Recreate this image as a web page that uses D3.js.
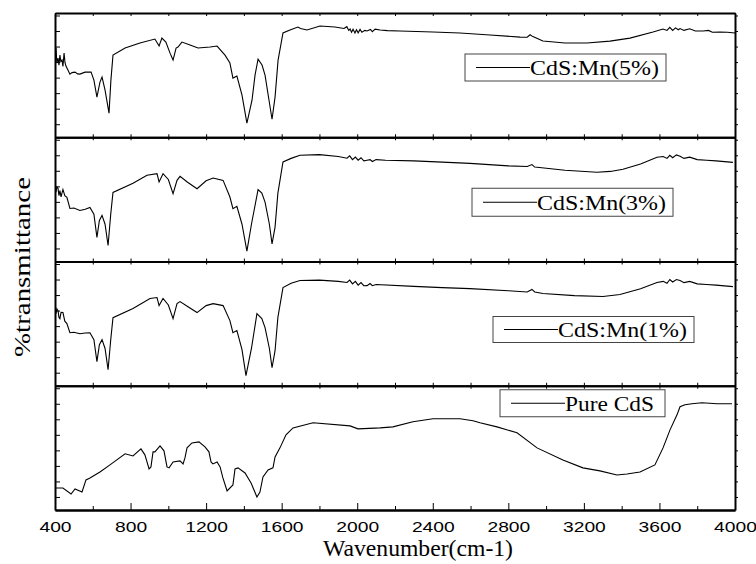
<!DOCTYPE html>
<html>
<head>
<meta charset="utf-8">
<script src="https://cdn.jsdelivr.net/npm/d3@7"></script>
<style>
  body { margin: 0; background: #fff; }
  .frame path.domain { stroke: #000; stroke-width: 2; }
  .frame line { stroke: #000; stroke-width: 1; }
  .xlab text { font-family: 'Liberation Sans', Arial, sans-serif; font-size: 15px; fill: #000; }
  .serif { font-family: 'Liberation Serif', 'Times New Roman', 'DejaVu Serif', serif; fill: #000; }
  .spec { fill: none; stroke: #000; stroke-width: 1.1; }
</style>
</head>
<body>
<div id="chartArea"></div>
<script>
// series names, top panel first
const seriesNames = ['CdS:Mn(5%)', 'CdS:Mn(3%)', 'CdS:Mn(1%)', 'Pure CdS'];

// [wavenumber, transmittance] (arbitrary % of panel height)
const mn5 = [[405,71.8],[410,60],[416,63.7],[421,58],[426,66.1],[431,61],[437,62.1],[442,57],[448,67.7],[453,60],[458,57.3],[469,54.0],[479,50.8],[490,52],[506,52.4],[520,51],[532,50.8],[559,52.4],[591,52.4],[606,46.0],[622,32.3],[638,44.4],[649,48.4],[665,37.9],[686,19.4],[696,46.0],[707,66.1],[771,71.8],[850,75.8],[929,79.0],[951,73.4],[966,79.8],[987,76.6],[1009,67.7],[1025,62.1],[1041,71.8],[1051,72.6],[1072,76.6],[1115,74.2],[1157,71.8],[1221,72.6],[1258,73.4],[1300,66.1],[1326,59.7],[1342,47.6],[1363,49.2],[1390,33.9],[1416,11.3],[1443,29.8],[1459,50.0],[1475,62.9],[1496,58.1],[1512,50.0],[1533,29.8],[1549,14.5],[1565,32.3],[1581,62.1],[1607,83.9],[1644,86.3],[1686,88.7],[1700,87.5],[1734,86.3],[1803,89.5],[1882,88.7],[1930,87.5],[1945,89],[1955,86],[1962,87.1],[1970,84.5],[1978,87],[1988,83.9],[1996,86.5],[2005,84],[2015,86.8],[2025,84.5],[2040,86],[2052,85.5],[2070,86.8],[2080,85],[2095,87],[2121,86.3],[2160,85.8],[2226,85.5],[2401,84.7],[2544,83.9],[2703,82.3],[2862,80.6],[2900,80.5],[2915,82.5],[2930,81],[2983,77.4],[3100,75.8],[3216,75.8],[3338,77.4],[3444,79.8],[3566,84.7],[3619,87.1],[3640,86],[3655,88.5],[3670,86],[3685,88],[3700,86.5],[3709,87.5],[3730,86],[3760,87.3],[3790,85.5],[3831,85.5],[3860,86],[3880,84.5],[3920,84.7],[3960,84.5],[4000,83.9]];

const mn3 = [[405,55.9],[410,60],[416,58.9],[421,53],[426,57],[432,52],[442,58],[452,53],[463,51.6],[479,42.7],[500,43],[532,41.1],[560,42],[585,43.5],[606,38],[622,19.4],[635,33],[649,37.1],[665,30],[681,12.9],[695,38],[707,55.6],[813,62.9],[887,69.4],[940,70.7],[951,64.0],[972,70.7],[1000,66],[1025,54.6],[1046,65.3],[1062,68.5],[1100,64],[1152,58.6],[1200,65],[1237,67.2],[1290,65.3],[1326,51.9],[1342,42.5],[1363,44.4],[1390,30],[1416,8.3],[1440,30],[1475,57.8],[1495,55],[1512,47.8],[1535,30],[1549,14.2],[1565,27.7],[1580,55],[1607,80.1],[1650,83],[1697,85.5],[1800,86],[1900,84.5],[1946,83.1],[1960,85],[1975,82],[1990,84],[2005,81.5],[2020,83.5],[2035,81],[2052,81.5],[2068,82],[2080,80.5],[2100,82],[2150,81.5],[2300,81],[2450,80],[2597,79.0],[2800,77],[2900,76.5],[2925,78],[2940,76],[2952,75.8],[3100,73.5],[3269,71.8],[3340,72.5],[3407,74.2],[3500,78.5],[3587,83.9],[3620,84.5],[3640,83],[3655,85.5],[3670,83.5],[3690,85.8],[3709,84.7],[3730,83],[3760,84],[3800,82],[3850,81.5],[3900,81],[3989,79.8]];

const mn1 = [[405,58.1],[410,62],[416,60.5],[421,55],[426,54.0],[432,59],[442,58.9],[452,52],[463,50.0],[479,42.7],[500,43],[532,41.9],[560,42.5],[585,42.7],[606,37],[622,19.4],[635,33],[649,37.1],[665,30],[681,12.9],[695,37],[707,54.8],[813,62.1],[903,70.2],[940,71.0],[951,64.5],[972,70.2],[1000,65],[1025,54.0],[1046,66.1],[1062,67.7],[1100,64],[1152,58.9],[1200,64.5],[1237,66.1],[1290,64.5],[1326,52.4],[1342,42.7],[1363,44.4],[1390,29],[1411,8.1],[1440,30],[1469,58.1],[1495,54],[1512,46.8],[1535,30],[1549,14.5],[1565,28.2],[1580,55],[1607,79.0],[1650,82.5],[1697,84.7],[1800,85],[1900,84],[1946,83.1],[1960,85],[1975,82],[1990,84],[2005,81],[2020,83],[2035,80.5],[2052,80.6],[2068,82.3],[2080,80.5],[2100,81.5],[2300,80],[2450,79],[2597,78.2],[2800,76.5],[2900,75.5],[2925,77.5],[2940,75.5],[2983,74.2],[3150,72.5],[3301,71.8],[3391,73.4],[3500,78],[3587,83.1],[3620,84],[3640,82.5],[3655,85.5],[3670,83.5],[3690,85.5],[3709,84.7],[3730,83],[3760,84],[3800,82],[3850,81.5],[3900,81],[3989,79.8]];

const pure = [[405,17.7],[442,17.7],[485,12.9],[506,16.9],[543,14.5],[564,24.2],[585,25.8],[638,30.6],[691,36.3],[771,45.2],[813,43.5],[855,49.2],[876,44.4],[898,33.1],[908,34.7],[919,46.8],[929,46.8],[956,51.6],[977,47.6],[993,34.7],[1004,33.9],[1025,38.7],[1062,39.5],[1078,37.1],[1088,41.9],[1099,50.0],[1125,54.0],[1162,54.8],[1194,50.8],[1215,46.8],[1226,38.7],[1236,37.1],[1258,38.7],[1274,34.7],[1289,25.8],[1311,15.3],[1342,20.2],[1353,33.1],[1369,33.9],[1406,29.8],[1438,21.8],[1469,10.5],[1485,14.5],[1501,26.6],[1528,32.3],[1554,33.9],[1565,42.7],[1591,50.0],[1623,60.5],[1660,66.1],[1766,70.2],[1962,67.7],[2004,65.3],[2121,66.1],[2189,66.9],[2295,71.0],[2401,73.4],[2544,73.4],[2613,71.8],[2650,70.2],[2740,66.9],[2846,62.1],[2952,50.0],[3089,40.3],[3195,33.9],[3285,31.5],[3375,28.2],[3428,29.0],[3497,30.6],[3576,36.3],[3619,50.0],[3656,64.5],[3693,76.6],[3709,83.1],[3735,84.7],[3772,85.5],[3825,86.3],[3905,85.5],[3984,85.5]];

const seriesData = [mn5, mn3, mn1, pure];

const xTicks = [400, 800, 1200, 1600, 2000, 2400, 2800, 3200, 3600, 4000];
const xMinorTicks = [600, 1000, 1400, 1800, 2200, 2600, 3000, 3400, 3800];
const yTicks = [10.5, 23, 35.5, 48, 60.5, 73, 85.5, 98];

// legend box placement inside each panel: [left, top, width, height]
const legendBoxes = [[410, 41, 201, 27], [417, 51, 201, 28], [438, 55, 201, 26], [445, 4, 165, 27]];

let margins = { top: 13, right: 21, bottom: 54, left: 55 };
let width = 756 - margins.left - margins.right,
    height = 564 - margins.top - margins.bottom;
let panelH = height / seriesNames.length;

let svg = d3.select('#chartArea').append('svg')
    .attr('width', 756)
    .attr('height', 564);

let chart = svg.append('g')
    .attr('transform', 'translate(' + margins.left + ',' + margins.top + ')');

let xScale = d3.scaleLinear().domain([400, 4000]).range([0, width]);
let yScale = d3.scaleLinear().domain([0, 100]).range([panelH, 0]);

let allX = d3.range(400, 4001, 200);

let line = d3.line()
    .x(d => xScale(d[0]))
    .y(d => yScale(d[1]));

seriesNames.forEach((name, i) => {
    let panel = chart.append('g')
        .attr('transform', 'translate(0,' + (i * panelH) + ')');

    panel.append('path')
        .attr('class', 'spec')
        .attr('d', line(seriesData[i]));

    // frame with ticks
    panel.append('g').attr('class', 'frame')
        .call(d3.axisLeft(yScale).tickValues(yTicks).tickSize(-5).tickSizeOuter(0).tickFormat(''));
    panel.append('g').attr('class', 'frame')
        .attr('transform', 'translate(' + width + ',0)')
        .call(d3.axisRight(yScale).tickValues(yTicks).tickSize(3).tickSizeOuter(0).tickFormat(''));
    panel.append('g').attr('class', 'frame')
        .call(d3.axisTop(xScale).tickValues(allX).tickSize(-3).tickSizeOuter(0).tickFormat(''));

    if (i < seriesNames.length - 1) {
        panel.append('g').attr('class', 'frame')
            .attr('transform', 'translate(0,' + panelH + ')')
            .call(d3.axisBottom(xScale).tickValues(allX).tickSize(-3).tickSizeOuter(0).tickFormat(''));
    } else {
        panel.append('g').attr('class', 'frame')
            .attr('transform', 'translate(0,' + panelH + ')')
            .call(d3.axisBottom(xScale).tickValues(xMinorTicks).tickSize(-4).tickSizeOuter(0).tickFormat(''));
        let ax = panel.append('g').attr('class', 'frame xlab')
            .attr('transform', 'translate(0,' + panelH + ')')
            .call(d3.axisBottom(xScale).tickValues(xTicks).tickSize(-7).tickSizeOuter(0).tickPadding(11).tickFormat(d3.format('d')));
        ax.selectAll('text')
            .attr('font-family', null)
            .attr('font-size', null)
            .attr('textLength', d => String(d).length * 10.7)
            .attr('lengthAdjust', 'spacingAndGlyphs');
    }

    // legend
    let b = legendBoxes[i];
    let lg = panel.append('g').attr('transform', 'translate(' + b[0] + ',' + b[1] + ')');
    lg.append('rect')
        .attr('width', b[2]).attr('height', b[3])
        .attr('fill', '#fff').attr('stroke', '#444').attr('stroke-width', 1);
    lg.append('line')
        .attr('x1', 11).attr('x2', 65)
        .attr('y1', b[3] / 2).attr('y2', b[3] / 2)
        .attr('stroke', '#000').attr('stroke-width', 1);
    lg.append('text')
        .attr('class', 'serif')
        .attr('x', 65).attr('y', b[3] / 2 + 7.5)
        .style('font-size', '22px')
        .attr('textLength', name === 'Pure CdS' ? 89 : 129)
        .attr('lengthAdjust', 'spacingAndGlyphs')
        .text(name);
});

// x axis title
chart.append('text')
    .attr('class', 'serif')
    .attr('x', 363)
    .attr('y', height + 46)
    .attr('text-anchor', 'middle')
    .style('font-size', '23px')
    .attr('textLength', 190)
    .attr('lengthAdjust', 'spacingAndGlyphs')
    .text('Wavenumber(cm-1)');

// y axis title
svg.append('text')
    .attr('class', 'serif')
    .attr('transform', 'translate(30,267) rotate(-90)')
    .attr('text-anchor', 'middle')
    .style('font-size', '23px')
    .attr('textLength', 180)
    .attr('lengthAdjust', 'spacingAndGlyphs')
    .text('%transmittance');
</script>
</body>
</html>
